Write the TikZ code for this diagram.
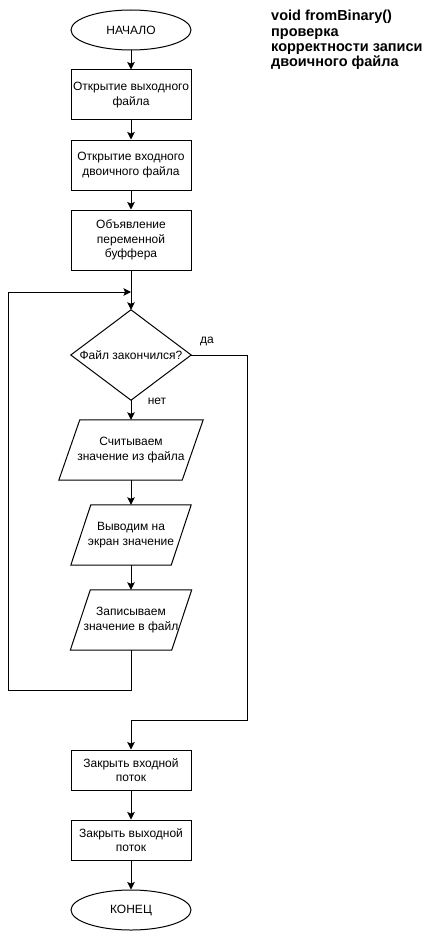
\documentclass[tikz,border=0pt]{standalone}
\usepackage{fontspec}
\setmainfont{Liberation Sans}
\usetikzlibrary{shapes.geometric,arrows.meta}

\begin{document}
\begin{tikzpicture}[x=1pt,y=-1pt,
  every node/.style={font=\fontsize{12}{14.5}\selectfont, align=center, inner sep=0pt},
  flow/.style={line width=1pt, draw=black},
  arr/.style={flow, -{Stealth[length=7.5pt,width=7.5pt,inset=1.5pt]}},
  proc/.style={draw, line width=1pt, minimum width=120pt},
  term/.style={draw, ellipse, line width=1pt, minimum width=120pt, minimum height=40pt},
  io/.style={minimum height=60pt},
  lbl/.style={inner sep=0pt},
  title/.style={anchor=north west, align=left, font=\fontsize{14.5}{15.4}\selectfont\bfseries}
]
\useasboundingbox (0,0) rectangle (428,931);

% terminals and process blocks
\node[term] (start) at (131,30) {НАЧАЛО};
\node[proc, minimum height=50pt] (r1) at (131,95) {Открытие выходного\\файла};
\node[proc, minimum height=50pt] (r2) at (131,165) {Открытие входного\\двоичного файла};
\node[proc, minimum height=60pt] (r3) at (131,240) {Объявление\\переменной\\буффера};

% decision
\node[minimum width=120pt, minimum height=90pt] (d) at (131,355) {Файл закончился?};
\draw[flow] (d.north) -- (d.east) -- (d.south) -- (d.west) -- cycle;

% input/output blocks (parallelograms drawn around their nodes)
\node[io, minimum width=123pt] (p1) at (131,450) {Считываем\\значение из файла};
\node[io, minimum width=100pt] (p2) at (131,535) {Выводим на\\экран значение};
\node[io, minimum width=101pt] (p3) at (131,620) {Записываем\\значение в файл};
\draw[flow] ([xshift=10.5pt]p1.north west) -- ([xshift=10.5pt]p1.north east)
  -- ([xshift=-10.5pt]p1.south east) -- ([xshift=-10.5pt]p1.south west) -- cycle;
\draw[flow] ([xshift=10pt]p2.north west) -- ([xshift=10pt]p2.north east)
  -- ([xshift=-10pt]p2.south east) -- ([xshift=-10pt]p2.south west) -- cycle;
\draw[flow] ([xshift=10pt]p3.north west) -- ([xshift=10pt]p3.north east)
  -- ([xshift=-10pt]p3.south east) -- ([xshift=-10pt]p3.south west) -- cycle;

\node[proc, minimum height=40pt] (r4) at (131,770) {Закрыть входной\\поток};
\node[proc, minimum height=40pt] (r5) at (131,840) {Закрыть выходной\\поток};
\node[term] (end) at (131,910) {КОНЕЦ};

% branch labels
\node[lbl] (yes) at (207,341) {да};
\node[lbl] (no) at (157,401) {нет};

% heading
\node[title] (head) at (271,10) {void fromBinary()\\проверка\\корректности записи\\двоичного файла};

% loop and branch routing points
\coordinate (join) at (131,292);
\coordinate (lb) at (8,690);
\coordinate (lt) at (8,292);
\coordinate (rt) at (247,720);

% connectors
\draw[arr] (start) -- (r1);
\draw[arr] (r1) -- (r2);
\draw[arr] (r2) -- (r3);
\draw[arr] (r3) -- (d.north);
\draw[arr] (d.south) -- (p1.north);
\draw[arr] (p1.south) -- (p2.north);
\draw[arr] (p2.south) -- (p3.north);
\draw[arr] (p3.south) |- (lb) -- (lt) -- (join);
\draw[arr] (d.east) -| (rt) -| (r4.north);
\draw[arr] (r4) -- (r5);
\draw[arr] (r5) -- (end);
\end{tikzpicture}
\end{document}
